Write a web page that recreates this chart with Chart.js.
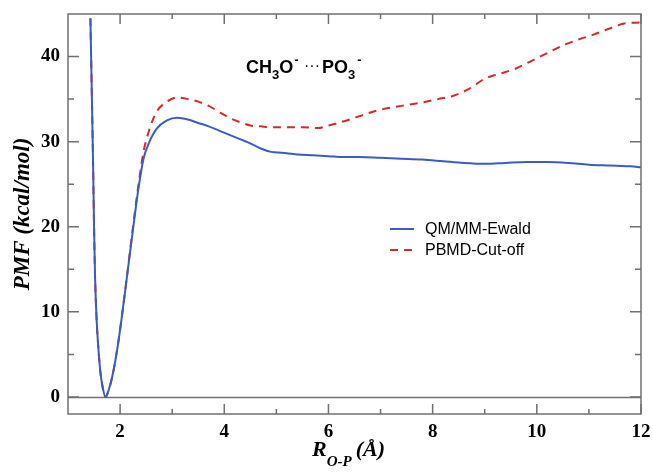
<!DOCTYPE html>
<html>
<head>
<meta charset="utf-8">
<script src="https://cdn.jsdelivr.net/npm/chart.js@4.4.1/dist/chart.umd.min.js"></script>
<style>
  html, body { margin: 0; padding: 0; background: #fff; }
  #wrap { width: 653px; height: 474px; position: relative; }
</style>
</head>
<body>
<div id="wrap"><canvas id="pmfChart" width="653" height="474"></canvas></div>
<script>
// data
const ewaldX = [1.43, 1.45, 1.48, 1.50, 1.52, 1.55, 1.58, 1.62, 1.67, 1.72, 1.78, 1.85, 1.95, 2.05, 2.15, 2.25, 2.35, 2.45, 2.55, 2.70, 2.90, 3.10, 3.30, 3.50, 3.70, 3.90, 4.10, 4.30, 4.50, 4.70, 4.90, 5.10, 5.40, 5.70, 6.00, 6.30, 6.60, 7.00, 7.40, 7.80, 8.20, 8.60, 9.00, 9.40, 9.80, 10.20, 10.60, 11.00, 11.40, 11.80, 12.00];
const ewaldY = [44.5, 38.0, 28.0, 20.0, 14.0, 9.0, 6.0, 3.0, 1.0, 0.0, 0.8, 2.4, 5.8, 10.2, 15.0, 19.8, 24.4, 28.0, 29.8, 31.5, 32.5, 32.8, 32.6, 32.2, 31.8, 31.3, 30.8, 30.3, 29.8, 29.2, 28.8, 28.7, 28.5, 28.4, 28.3, 28.2, 28.2, 28.1, 28.0, 27.9, 27.7, 27.5, 27.4, 27.5, 27.6, 27.6, 27.5, 27.3, 27.2, 27.1, 27.0];

const cutoffX = [1.43, 1.45, 1.48, 1.50, 1.52, 1.55, 1.58, 1.62, 1.67, 1.72, 1.78, 1.85, 1.95, 2.05, 2.15, 2.25, 2.35, 2.45, 2.55, 2.70, 2.90, 3.10, 3.30, 3.50, 3.70, 3.90, 4.10, 4.30, 4.50, 4.70, 4.90, 5.20, 5.50, 5.80, 6.00, 6.30, 6.60, 6.90, 7.20, 7.50, 7.80, 8.10, 8.40, 8.70, 9.00, 9.30, 9.60, 9.90, 10.20, 10.50, 10.80, 11.10, 11.40, 11.70, 12.00];
const cutoffY = [44.5, 38.0, 28.0, 20.0, 14.0, 9.0, 6.0, 3.0, 1.0, 0.0, 0.8, 2.4, 5.8, 10.2, 15.1, 20.1, 24.8, 28.8, 31.2, 33.5, 34.7, 35.2, 35.0, 34.7, 34.2, 33.5, 32.8, 32.3, 31.9, 31.8, 31.7, 31.7, 31.7, 31.6, 31.9, 32.4, 33.0, 33.6, 34.0, 34.3, 34.6, 35.0, 35.4, 36.2, 37.4, 38.0, 38.6, 39.5, 40.4, 41.3, 42.0, 42.6, 43.3, 43.9, 44.0];

const xTicks = [2, 4, 6, 8, 10, 12];
const xMinorTicks = [3, 5, 7, 9, 11];
const yTicks = [0, 10, 20, 30, 40];
const yMinorTicks = [5, 15, 25, 35];

const seriesLabels = ['QM/MM-Ewald', 'PBMD-Cut-off'];
const seriesColors = ['#3b5cc4', '#d42a2a'];

const FRAME = '#707070';
const SERIF = '"Liberation Serif", "Times New Roman", serif';
const SANS = '"Liberation Sans", Arial, sans-serif';

function toPoints(xs, ys) {
    return xs.map((x, i) => ({ x: x, y: ys[i] }));
}

// no extra label overflow padding, so the plot box sits where the figure has it
function fixPadding(s) {
    s.paddingLeft = 0;
    s.paddingRight = 0;
    s.paddingTop = 0;
    s.paddingBottom = 0;
}

// frame, inward ticks, zero line, titles, annotation and legend
const decorPlugin = {
    id: 'decor',
    beforeDatasetsDraw(chart) {
        const ctx = chart.ctx;
        const a = chart.chartArea;
        const y = chart.scales.y;
        ctx.save();
        ctx.strokeStyle = FRAME;
        ctx.lineWidth = 1.5;
        const y0 = Math.round(y.getPixelForValue(0)) + 0.5;
        ctx.beginPath();
        ctx.moveTo(a.left, y0);
        ctx.lineTo(a.right, y0);
        ctx.stroke();
        ctx.restore();
    },
    afterDraw(chart) {
        const ctx = chart.ctx;
        const a = chart.chartArea;
        const xs = chart.scales.x;
        const ys = chart.scales.y;
        ctx.save();
        ctx.strokeStyle = FRAME;
        ctx.lineWidth = 1.5;
        ctx.strokeRect(a.left, a.top, a.right - a.left, a.bottom - a.top);

        const tick = (vals, len) => {
            vals.forEach(v => {
                const px = xs.getPixelForValue(v);
                ctx.beginPath();
                ctx.moveTo(px, a.bottom); ctx.lineTo(px, a.bottom - len);
                ctx.moveTo(px, a.top); ctx.lineTo(px, a.top + len);
                ctx.stroke();
            });
        };
        const ytick = (vals, len) => {
            vals.forEach(v => {
                const py = ys.getPixelForValue(v);
                ctx.beginPath();
                ctx.moveTo(a.left, py); ctx.lineTo(a.left + len, py);
                ctx.moveTo(a.right, py); ctx.lineTo(a.right - len, py);
                ctx.stroke();
            });
        };
        tick(xTicks, 10);
        tick(xMinorTicks, 5);
        ytick(yTicks, 11);
        ytick(yMinorTicks, 6);

        // y title
        ctx.fillStyle = '#000';
        ctx.save();
        ctx.translate(29, 214);
        ctx.rotate(-Math.PI / 2);
        ctx.font = 'italic bold 23px ' + SERIF;
        ctx.textAlign = 'center';
        ctx.textBaseline = 'alphabetic';
        ctx.fillText('PMF (kcal/mol)', 0, 0);
        ctx.restore();

        // x title with subscript
        ctx.textAlign = 'left';
        ctx.textBaseline = 'alphabetic';
        let cx = 312;
        ctx.font = 'italic bold 22px ' + SERIF;
        ctx.fillText('R', cx, 456);
        cx += ctx.measureText('R').width;
        ctx.font = 'italic bold 15px ' + SERIF;
        ctx.fillText('O-P', cx, 466);
        cx += ctx.measureText('O-P').width + 4;
        ctx.font = 'italic bold 22px ' + SERIF;
        ctx.fillText('(\u00c5)', cx, 456);

        // species annotation: CH3O- ... PO3-
        const big = 'bold 18px ' + SANS;
        const small = 'bold 13px ' + SANS;
        let ax = 246;
        const put = (txt, font, dy) => {
            ctx.font = font;
            ctx.fillText(txt, ax, 73 + dy);
            ax += ctx.measureText(txt).width;
        };
        put('CH', big, 0);
        put('3', small, 6);
        put('O', big, 0);
        ax += 1;
        put('-', small, -9);
        ax = 304;
        put('\u00b7\u00b7\u00b7', '16px ' + SANS, -2);
        ax = 322;
        put('PO', big, 0);
        put('3', small, 6);
        ax += 2;
        put('-', small, -9);

        // legend
        ctx.font = '16px ' + SANS;
        ctx.textBaseline = 'middle';
        seriesLabels.forEach((lab, i) => {
            const ly = 229 + i * 21;
            ctx.strokeStyle = seriesColors[i];
            ctx.lineWidth = 2;
            ctx.setLineDash(i === 1 ? [8, 6] : []);
            ctx.beginPath();
            ctx.moveTo(390, ly);
            ctx.lineTo(414, ly);
            ctx.stroke();
            ctx.setLineDash([]);
            ctx.fillStyle = '#000';
            ctx.fillText(lab, 425, ly + 1);
        });
        ctx.restore();
    }
};

new Chart(document.getElementById('pmfChart'), {
    type: 'line',
    data: {
        datasets: [
            {
                label: seriesLabels[0],
                data: toPoints(ewaldX, ewaldY),
                borderColor: seriesColors[0],
                borderWidth: 2,
                pointRadius: 0,
                cubicInterpolationMode: 'monotone',
                fill: false
            },
            {
                label: seriesLabels[1],
                data: toPoints(cutoffX, cutoffY),
                borderColor: seriesColors[1],
                borderWidth: 2,
                borderDash: [8, 6],
                pointRadius: 0,
                cubicInterpolationMode: 'monotone',
                fill: false
            }
        ]
    },
    options: {
        responsive: false,
        animation: false,
        layout: { padding: { left: 0, right: 12, top: 14, bottom: 0 } },
        plugins: {
            legend: { display: false },
            tooltip: { enabled: false }
        },
        scales: {
            x: {
                type: 'linear',
                min: 1,
                max: 12,
                afterFit: s => { s.height = 60; fixPadding(s); },
                afterBuildTicks: s => { s.ticks = xTicks.map(v => ({ value: v })); },
                grid: { display: false, drawTicks: false },
                border: { display: false },
                ticks: {
                    color: '#000',
                    padding: 7,
                    maxRotation: 0,
                    font: { family: SERIF, size: 19, weight: 'bold' }
                }
            },
            y: {
                type: 'linear',
                min: -2,
                max: 45,
                afterFit: s => { s.width = 68; fixPadding(s); },
                afterBuildTicks: s => { s.ticks = yTicks.map(v => ({ value: v })); },
                grid: { display: false, drawTicks: false },
                border: { display: false },
                ticks: {
                    color: '#000',
                    padding: 8,
                    font: { family: SERIF, size: 19, weight: 'bold' }
                }
            }
        }
    },
    plugins: [decorPlugin]
});
</script>
</body>
</html>
